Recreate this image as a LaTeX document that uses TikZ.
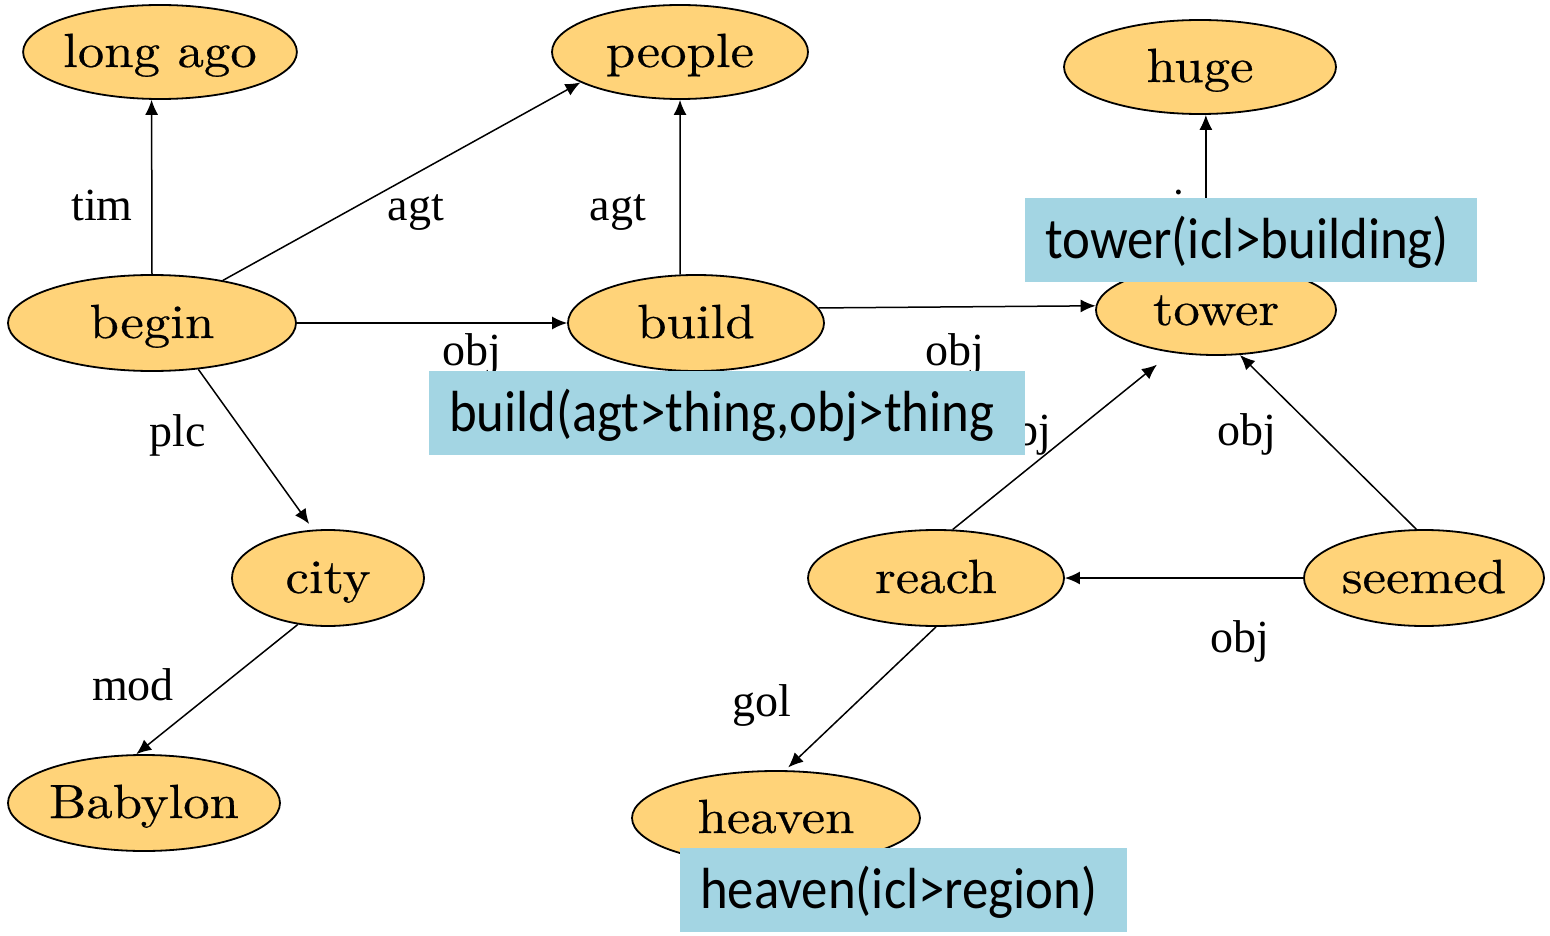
\documentclass[tikz,border=0pt]{standalone}
\usepackage{fontspec}
\usetikzlibrary{shapes.geometric,arrows.meta}
\newfontfamily\lblfont{Liberation Serif}
\newfontfamily\boxfont{Carlito}[FakeStretch=0.91]
\newfontfamily\conceptfont{lmroman10-regular.otf}[FakeStretch=1.1,FakeBold=0.4]
\definecolor{conceptfill}{RGB}{255,211,121}
\definecolor{notefill}{RGB}{163,213,227}
\tikzset{
  concept/.style={ellipse, draw=black, line width=1.8pt, fill=conceptfill, inner sep=0pt,
    text height=36pt, text depth=6pt, font=\conceptfont\fontsize{48}{56}\selectfont},
  rel/.style={line width=1.5pt, -{Latex[length=15pt,width=13pt]}},
  rellabel/.style={anchor=base, inner sep=0pt, font=\lblfont\fontsize{46}{55}\selectfont},
  note/.style={rectangle, fill=notefill, anchor=north west, minimum height=84pt,
    inner xsep=20pt, inner ysep=0pt, text height=48pt, text depth=12pt, align=left,
    font=\boxfont\fontsize{58}{66}\selectfont}
}
\begin{document}
\begin{tikzpicture}[x=1pt,y=-1pt]
\useasboundingbox (0,0) rectangle (1550,936);

% concept nodes
\node[concept, minimum width=272pt, minimum height=94pt] (longago) at (160,52) {long ago};
\node[concept, minimum width=256pt, minimum height=94pt] (people) at (680,52) {people};
\node[concept, minimum width=272pt, minimum height=94pt] (huge) at (1200,67) {huge};
\node[concept, minimum width=288pt, minimum height=96pt] (begin) at (152,323) {begin};
\node[concept, minimum width=256pt, minimum height=96pt] (build) at (696,323) {build};
\node[concept, minimum width=240pt, minimum height=90pt] (tower) at (1216,310) {tower};
\node[concept, minimum width=192pt, minimum height=96pt] (city) at (328,578) {city};
\node[concept, minimum width=256pt, minimum height=96pt] (reach) at (936,578) {reach};
\node[concept, minimum width=240pt, minimum height=96pt] (seemed) at (1424,578) {seemed};
\node[concept, minimum width=272pt, minimum height=96pt] (babylon) at (144,803) {Babylon};
\node[concept, minimum width=288pt, minimum height=94pt] (heaven) at (776,818) {heaven};

% relations
\draw[rel] (begin.north) -- (longago.260);
\draw[rel] (begin.31) -- (people.197.7);
\draw[rel] (build.108) -- (people.south);
\draw[rel] (begin.east) -- (build.west);
\draw[rel] (build.7.5) -- (tower.178);
\draw[rel] (tower.north -| huge.-83) -- (huge.-83);
\draw[rel, shorten >=7pt] (begin.-45) -- (city.107);
\draw[rel] (city.237) -- (babylon.99.5);
\draw[rel, shorten >=19pt] (reach.71.6) -- (tower.224.5);
\draw[rel] (seemed.99.5) -- (tower.-62);
\draw[rel] (seemed.west) -- (reach.east);
\draw[rel, shorten >=4pt] (reach.south) -- (heaven.79);

% relation labels (placed on their baselines)
\node[rellabel] (l-tim) at (102,221) {tim};
\node[rellabel] (l-agt1) at (416,221) {agt};
\node[rellabel] (l-agt2) at (618,221) {agt};
\node[rellabel] (l-aoj) at (1157,221) {aoj};
\node[rellabel] (l-obj1) at (472,365) {obj};
\node[rellabel] (l-obj2) at (955,365) {obj};
\node[rellabel] (l-plc) at (178,446) {plc};
\node[rellabel] (l-obj3) at (1022,445) {obj};
\node[rellabel] (l-obj4) at (1247,445) {obj};
\node[rellabel] (l-obj5) at (1240,652) {obj};
\node[rellabel] (l-mod) at (133,700) {mod};
\node[rellabel] (l-gol) at (762,716) {gol};

% headword notes
\node[note, text width=412pt] (n-tower) at (1025,198) {tower(icl>building)};
\node[note, text width=556pt] (n-build) at (429,371) {build(agt>thing,obj>thing};
\node[note, text width=407pt] (n-heaven) at (680,848) {heaven(icl>region)};
\end{tikzpicture}
\end{document}
